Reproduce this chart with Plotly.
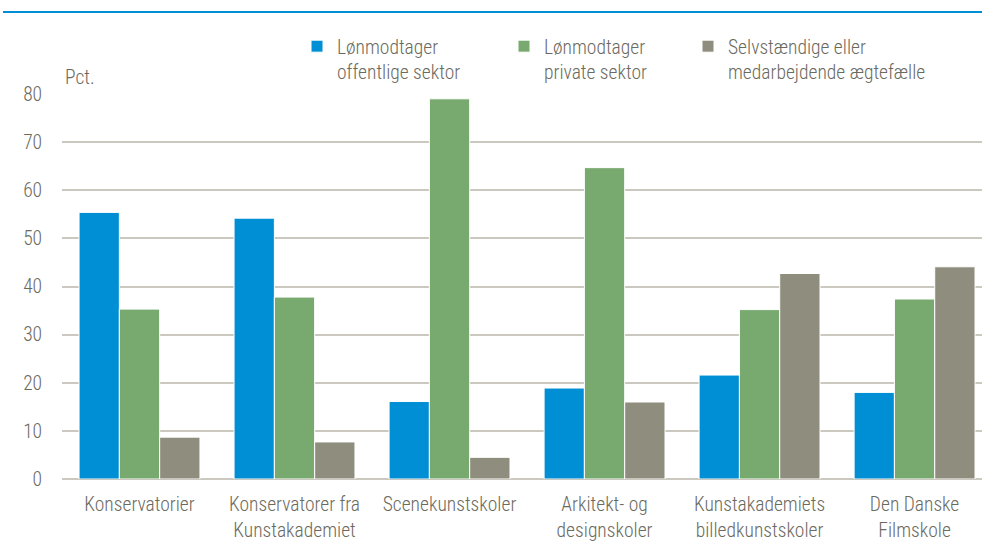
import plotly.graph_objects as go

categories = ["Konservatorier", "Konservatorer fra<br>Kunstakademiet", "Scenekunstskoler",
              "Arkitekt- og<br>designskoler", "Kunstakademiets<br>billedkunstskoler", "Den Danske<br>Filmskole"]
offentlig = [55.4, 54.2, 16.1, 18.9, 21.6, 18.0]
privat = [35.3, 37.8, 79.0, 64.7, 35.2, 37.4]
selvst = [8.7, 7.7, 4.5, 16.0, 42.7, 44.1]
names = ["Lønmodtager<br>offentlige sektor", "Lønmodtager<br>private sektor",
         "Selvstændige eller<br>medarbejdende ægtefælle"]
colors = ["#008fd5", "#78aa6f", "#8f8e7e"]
yticks = [0, 10, 20, 30, 40, 50, 60, 70, 80]

FONT = "Roboto Condensed, Roboto, Liberation Sans, sans-serif"
FS = 19.5
TXT = "#6b6a5e"

fig = go.Figure()
legends = ["legend", "legend2", "legend3"]
for vals, nm, col, lg in zip([offentlig, privat, selvst], names, colors, legends):
    fig.add_trace(go.Bar(x=categories, y=vals, name=nm, legend=lg, showlegend=True,
                         marker=dict(color=col, line=dict(color="white", width=1))))

W, H = 982, 541
l, r, t, b = 62, 0, 94, 62
pw, ph = W - l - r, H - t - b

def px(x):
    return (x - l) / pw

def py(y):
    return (H - b - y) / ph

fnt = dict(family=FONT, size=FS, color=TXT, weight=300)
leg_common = dict(orientation="v", yanchor="top", xanchor="left", valign="top",
                  font=fnt, bgcolor="rgba(0,0,0,0)", itemwidth=30, tracegroupgap=0)

fig.update_layout(
    width=W, height=H,
    margin=dict(l=l, r=r, t=t, b=b, autoexpand=False),
    paper_bgcolor="white", plot_bgcolor="white",
    barmode="group", bargap=0.22, bargroupgap=0,
    showlegend=True,
    font=fnt,
    legend=dict(x=px(297), y=py(27), **leg_common),
    legend2=dict(x=px(504), y=py(27), **leg_common),
    legend3=dict(x=px(688), y=py(27), **leg_common),
    xaxis=dict(range=[-0.5, 5.435], showgrid=False, showline=False, ticks="outside",
               ticklen=8, tickcolor="rgba(0,0,0,0)", tickfont=fnt, automargin=False),
    yaxis=dict(range=[0, 80], tickvals=yticks, showgrid=True, gridcolor="#cbc9bf",
               gridwidth=1.5, zeroline=True, zerolinecolor="#cbc9bf", zerolinewidth=1.5,
               ticks="outside", ticklen=15, tickcolor="rgba(0,0,0,0)", tickfont=fnt,
               automargin=False),
    shapes=[dict(type="line", xref="paper", yref="paper", x0=px(3), x1=px(982),
                 y0=py(12), y1=py(12), line=dict(color="#008fd5", width=2))],
    annotations=[dict(text="Pct.", xref="paper", yref="paper", x=px(63), y=py(77),
                      xanchor="left", yanchor="middle", showarrow=False, font=fnt)],
)

fig.write_html("out.html", config={"displayModeBar": False},
               post_script="document.body.style.margin='0';document.body.style.overflow='hidden';")
